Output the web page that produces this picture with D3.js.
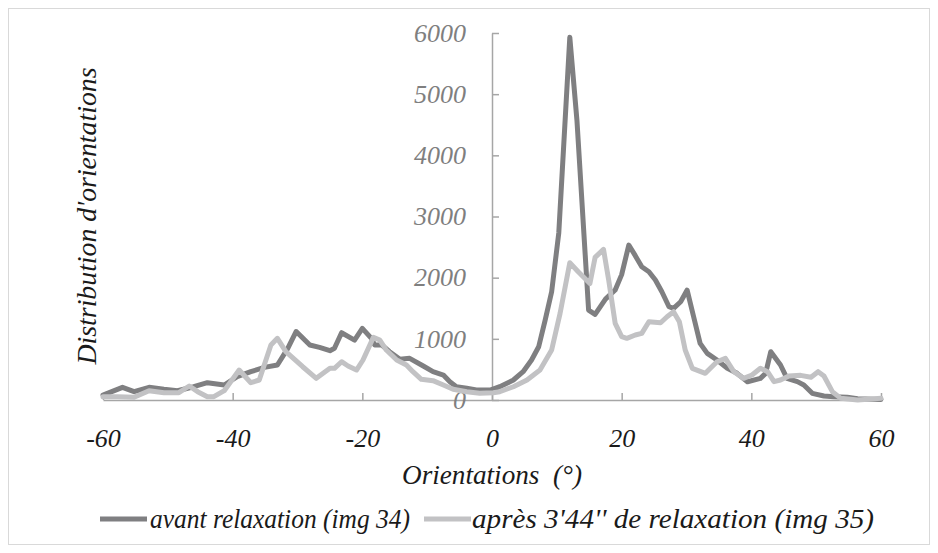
<!DOCTYPE html>
<html>
<head>
<meta charset="utf-8">
<script src="https://cdn.jsdelivr.net/npm/d3@7"></script>
<style>
  html, body { margin: 0; padding: 0; background: #fff; }
  svg { display: block; }
  text { font-family: "Liberation Serif", "DejaVu Serif", serif; font-style: italic; white-space: pre; }
</style>
</head>
<body>
<svg id="chart" width="938" height="553"></svg>
<script>
// ---- data ----
const xTicks = [-60, -40, -20, 0, 20, 40, 60];
const yTicks = [0, 1000, 2000, 3000, 4000, 5000, 6000];

const avantAngles = [-60, -57, -55.2, -52.9, -50.6, -48.5, -46, -43.9, -41.3, -39.3, -37.2, -35.1, -33.1, -31.5, -30.2, -28.1, -26.6, -25, -24.3, -23.2, -21.2, -20, -18.6, -18.1, -17, -15.8, -14.2, -12.7, -10.6, -9.1, -7.5, -6.5, -5.5, -3.9, -2.4, -0.3, 1.2, 3.3, 4.8, 6.1, 7.2, 8.2, 9.2, 10.3, 12, 13.1, 14.9, 15.9, 17.5, 19, 20, 21.1, 22.1, 23.1, 24.2, 25.2, 26.2, 27.3, 28, 29.1, 30.1, 31.1, 32.1, 33.2, 34.7, 36.3, 37.8, 39.4, 41.4, 42.2, 43, 44.5, 45.5, 47.1, 48.1, 49.4, 51.2, 52.7, 54.8, 56.4, 60];
const avantValues = [80, 207, 136, 207, 175, 152, 217, 283, 245, 381, 463, 534, 572, 845, 1120, 899, 861, 806, 845, 1100, 980, 1171, 1008, 899, 899, 790, 665, 681, 556, 463, 408, 300, 218, 191, 163, 163, 217, 327, 463, 654, 871, 1307, 1770, 2730, 5930, 4575, 1470, 1400, 1650, 1800, 2050, 2533, 2360, 2178, 2097, 1961, 1770, 1525, 1498, 1607, 1797, 1361, 926, 763, 654, 518, 436, 299, 354, 436, 790, 572, 354, 300, 245, 109, 65, 54, 44, 21, 10];

const apresAngles = [-60, -57.8, -55.2, -52.9, -50.6, -48.3, -46.7, -45.4, -43.9, -42.9, -41.3, -39, -37.2, -35.9, -34.1, -33.1, -31.8, -29.2, -27.1, -25, -24.3, -23.2, -22.2, -20.9, -19.9, -18.3, -17.3, -16.3, -14.7, -13.2, -12.2, -10.9, -9.1, -7.5, -6, -3.9, -1.9, 0.2, 1.2, 3.3, 5.4, 7.4, 9.2, 10.5, 12, 13.3, 15.1, 15.9, 17.2, 18, 19, 20, 20.8, 22.1, 23.1, 24.2, 26, 27, 28, 28.9, 29.8, 30.9, 32.9, 34.7, 36, 37.3, 38.8, 40.1, 41.4, 42.5, 43.5, 44.5, 45.8, 47.6, 49.2, 50.3, 51.2, 52.5, 53.8, 56.4, 60];
const apresValues = [54, 54, 44, 152, 120, 120, 229, 136, 54, 54, 152, 490, 283, 327, 899, 1008, 790, 544, 354, 518, 518, 626, 556, 490, 654, 1024, 980, 817, 654, 572, 463, 338, 316, 245, 175, 136, 109, 120, 136, 217, 327, 490, 817, 1416, 2243, 2097, 1906, 2331, 2462, 1961, 1253, 1035, 1008, 1062, 1089, 1280, 1263, 1361, 1443, 1280, 817, 518, 436, 626, 681, 463, 354, 408, 518, 463, 300, 327, 392, 403, 371, 463, 392, 136, 27, 0, 27];

const seriesNames = ["avant relaxation (img 34)", "après 3'44'' de relaxation (img 35)"];
const xTitle = "Orientations  (°)";
const yTitle = "Distribution d'orientations";

// ---- drawing ----
const svg = d3.select("#chart");
const colors = ["#7f7f81", "#c2c2c4"];

svg.append("rect").attr("x", 8.5).attr("y", 8.5).attr("width", 921).attr("height", 536)
  .attr("fill", "#fff").attr("stroke", "#d9d9d9").attr("stroke-width", 1);

const x = d3.scaleLinear().domain([-60, 60]).range([103, 881]);
const y = d3.scaleLinear().domain([0, 6000]).range([400, 33]);

// x axis
const gx = svg.append("g").attr("transform", `translate(0,${y(0)})`)
  .call(d3.axisBottom(x).tickValues(xTicks).tickSize(-7).tickSizeOuter(0).tickPadding(29)
    .tickFormat(d => String(d)));
gx.select(".domain").attr("stroke", "#a6a6a6").attr("stroke-width", 1.5);
gx.selectAll(".tick line").attr("stroke", "#a6a6a6").attr("stroke-width", 1.5);
gx.selectAll(".tick text").attr("fill", "#1a1a1a").attr("font-size", 26)
  .style("font-family", '"Liberation Serif", serif').style("font-style", "italic");

// y axis
const gy = svg.append("g").attr("transform", `translate(${x(0)},0)`)
  .call(d3.axisLeft(y).tickValues(yTicks).tickSize(-7).tickSizeOuter(0).tickPadding(26)
    .tickFormat(d => String(d)));
gy.select(".domain").attr("stroke", "#a6a6a6").attr("stroke-width", 1.5);
gy.selectAll(".tick line").attr("stroke", "#a6a6a6").attr("stroke-width", 1.5);
gy.selectAll(".tick text").attr("fill", "#7f7f7f").attr("font-size", 26)
  .style("font-family", '"Liberation Serif", serif').style("font-style", "italic");

// lines
const line = d3.line().x(d => x(d[0])).y(d => y(d[1]));
const avant = avantAngles.map((a, i) => [a, avantValues[i]]);
const apres = apresAngles.map((a, i) => [a, apresValues[i]]);
[avant, apres].forEach((data, i) => {
  svg.append("path").datum(data).attr("d", line)
    .attr("fill", "none").attr("stroke", colors[i]).attr("stroke-width", 5)
    .attr("stroke-linejoin", "round").attr("stroke-linecap", "round");
});

// axis titles
svg.append("text").attr("x", 492).attr("y", 484).attr("text-anchor", "middle")
  .attr("font-size", 27).attr("fill", "#1a1a1a")
  .attr("textLength", 180).attr("lengthAdjust", "spacingAndGlyphs").text(xTitle);
svg.append("text").attr("transform", "translate(96,216) rotate(-90)").attr("text-anchor", "middle")
  .attr("font-size", 27).attr("fill", "#1a1a1a")
  .attr("textLength", 297).attr("lengthAdjust", "spacingAndGlyphs").text(yTitle);

// legend
const legend = [{x: 100, tx: 150, w: 260}, {x: 424, tx: 472, w: 402}];
legend.forEach((l, i) => {
  svg.append("line").attr("x1", l.x).attr("x2", l.x + 47).attr("y1", 519).attr("y2", 519)
    .attr("stroke", colors[i]).attr("stroke-width", 5);
  svg.append("text").attr("x", l.tx).attr("y", 528).attr("font-size", 27).attr("fill", "#1a1a1a")
    .attr("textLength", l.w).attr("lengthAdjust", "spacingAndGlyphs")
    .text(seriesNames[i]);
});
</script>
</body>
</html>
